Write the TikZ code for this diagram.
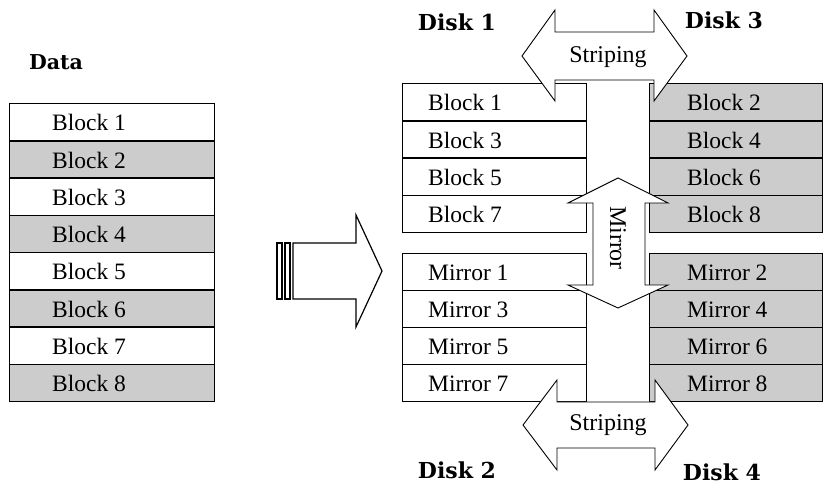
\documentclass[tikz,border=0pt]{standalone}
\usepackage{fontspec}
\setmainfont{Liberation Serif}
\newfontfamily\diskfont{DejaVu Serif}
\usetikzlibrary{calc}
\begin{document}
\begin{tikzpicture}[x=1pt,y=-1pt,
  rowbox/.style={draw=black, line width=1.3pt, minimum height=37.25pt, inner sep=0pt, anchor=north west},
  graybox/.style={rowbox, fill=gray!40},
  whitebox/.style={rowbox, fill=white},
  rowtext/.style={anchor=base west, inner sep=0pt, font=\fontsize{23.5}{26}\selectfont},
  arrowtext/.style={inner sep=0pt, font=\fontsize{24}{27}\selectfont},
  disklabel/.style={inner sep=0pt, font=\diskfont\bfseries\fontsize{22}{24}\selectfont},
  arrowline/.style={draw=black, fill=white, line width=0.9pt, line join=miter},
  bigarrow/.style={draw=black, fill=white, line width=1.2pt}
]
\useasboundingbox (0,0) rectangle (823,489);

% ---- Data column ----
\node[disklabel, font=\diskfont\bfseries\fontsize{20.5}{22}\selectfont] (data) at (56,62) {Data};
\foreach \i in {1,...,8} {
  \pgfmathsetmacro{\yy}{103+(\i-1)*37.25}
  \pgfmathtruncatemacro{\odd}{mod(\i,2)}
  \ifnum\odd=1
    \node[whitebox, minimum width=205pt] (L\i) at (9,\yy) {};
  \else
    \node[graybox, minimum width=205pt] (L\i) at (9,\yy) {};
  \fi
  \node[rowtext] (Lt\i) at ($(L\i.west)+(43,8.5)$) {Block \i};
}

% ---- Disk 1 / Disk 2 column ----
\foreach \i/\n in {1/1,2/3,3/5,4/7} {
  \pgfmathsetmacro{\yy}{83+(\i-1)*37.25}
  \node[whitebox, minimum width=184pt] (R\i) at (402,\yy) {};
  \node[rowtext] (Rt\i) at ($(R\i.west)+(26,8.5)$) {Block \n};
}
\foreach \i/\n in {1/1,2/3,3/5,4/7} {
  \pgfmathsetmacro{\yy}{253+(\i-1)*37}
  \node[whitebox, minimum width=184pt, minimum height=37pt] (M\i) at (402,\yy) {};
  \node[rowtext] (Mt\i) at ($(M\i.west)+(26,8.5)$) {Mirror \n};
}

% ---- Disk 3 / Disk 4 column ----
\foreach \i/\n in {1/2,2/4,3/6,4/8} {
  \pgfmathsetmacro{\yy}{83+(\i-1)*37.25}
  \node[graybox, minimum width=173pt] (S\i) at (649,\yy) {};
  \node[rowtext] (St\i) at ($(S\i.west)+(38,8.5)$) {Block \n};
}
\foreach \i/\n in {1/2,2/4,3/6,4/8} {
  \pgfmathsetmacro{\yy}{253+(\i-1)*37}
  \node[graybox, minimum width=173pt, minimum height=37pt] (N\i) at (649,\yy) {};
  \node[rowtext] (Nt\i) at ($(N\i.west)+(38,8.5)$) {Mirror \n};
}

% ---- Disk labels ----
\node[disklabel] (disk1) at (457,22) {Disk 1};
\node[disklabel] (disk3) at (724,20) {Disk 3};
\node[disklabel] (disk2) at (457,470) {Disk 2};
\node[disklabel] (disk4) at (722,472) {Disk 4};

% ---- Striping arrows ----
\draw[arrowline] (522,56) -- (555,10) -- (555,32) -- (654,32) -- (654,10) -- (687,56)
  -- (654,101) -- (654,80) -- (555,80) -- (555,101) -- cycle;
\node[arrowtext, anchor=base] (strip1) at (608,63) {Striping};

\draw[arrowline] (523,425) -- (557,380) -- (557,402) -- (655,402) -- (655,380) -- (688,425)
  -- (655,470) -- (655,448) -- (557,448) -- (557,470) -- cycle;
\node[arrowtext, anchor=base] (strip2) at (608,430) {Striping};

% ---- Mirror arrow ----
\draw[arrowline] (618,178) -- (668,203) -- (645,203) -- (645,285) -- (668,285) -- (618,308)
  -- (568,285) -- (593,285) -- (593,203) -- (568,203) -- cycle;
\node[arrowtext, rotate=-90] (mirror) at (618,238) {Mirror};

% ---- Big arrow from data to disks ----
\draw[bigarrow] (277,243) rectangle (282,299);
\draw[bigarrow] (285,243) rectangle (290,299);
\draw[bigarrow] (293,243) -- (356,243) -- (356,215) -- (382,271) -- (356,327) -- (356,299) -- (293,299) -- cycle;
\end{tikzpicture}
\end{document}
